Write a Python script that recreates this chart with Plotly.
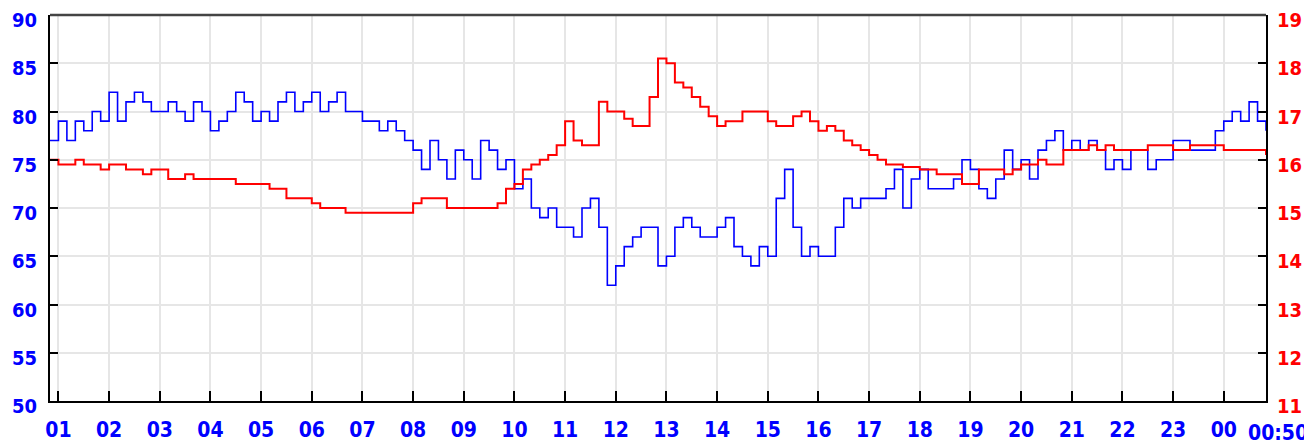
import pandas as pd
import plotly.graph_objects as go

# sample times: 10-minute readings from 00:50 to 00:50 next day
times = pd.date_range("2024-01-01 00:50", "2024-01-02 00:50", freq="10min")

# humidity (%), left axis
humidity = [
    77, 79, 77, 79, 78, 80, 79, 82, 79, 81, 82, 81, 80, 80, 81, 80, 79, 81, 80, 78,
    79, 80, 82, 81, 79, 80, 79, 81, 82, 80, 81, 82, 80, 81, 82, 80, 80, 79, 79, 78,
    79, 78, 77, 76, 74, 77, 75, 73, 76,
    75, 73, 77, 76, 74, 75, 72, 73, 70, 69, 70, 68, 68, 67, 70, 71, 68, 62, 64, 66,
    67, 68, 68, 64, 65, 68, 69, 68, 67, 67, 68, 69, 66, 65, 64, 66, 65, 71, 74, 68,
    65, 66, 65, 65, 68, 71, 70, 71,
    71, 71, 72, 74, 70, 73, 74, 72, 72, 72, 73, 75, 74, 72, 71, 73, 76, 74, 75, 73,
    76, 77, 78, 76, 77, 76, 77, 76, 74, 75, 74, 76, 76, 74, 75, 75, 77, 77, 76, 76,
    76, 78, 79, 80, 79, 81, 79, 78,
]

# temperature (deg C), right axis
temperature = [
    16.0, 15.9, 15.9, 16.0, 15.9, 15.9, 15.8, 15.9, 15.9, 15.8, 15.8, 15.7, 15.8, 15.8,
    15.6, 15.6, 15.7, 15.6, 15.6, 15.6, 15.6, 15.6, 15.5, 15.5, 15.5, 15.5, 15.4, 15.4,
    15.2, 15.2, 15.2, 15.1, 15.0, 15.0, 15.0, 14.9, 14.9, 14.9, 14.9, 14.9, 14.9, 14.9,
    14.9, 15.1, 15.2, 15.2, 15.2, 15.0, 15.0,
    15.0, 15.0, 15.0, 15.0, 15.1, 15.4, 15.5, 15.8, 15.9, 16.0, 16.1, 16.3, 16.8, 16.4,
    16.3, 16.3, 17.2, 17.0, 17.0, 16.85, 16.7, 16.7, 17.3, 18.1, 18.0, 17.6, 17.5, 17.3,
    17.1, 16.9, 16.7, 16.8, 16.8, 17.0, 17.0, 17.0, 16.8, 16.7, 16.7, 16.9, 17.0, 16.8,
    16.6, 16.7, 16.6, 16.4, 16.3, 16.2,
    16.1, 16.0, 15.9, 15.9, 15.85, 15.85, 15.8, 15.8, 15.7, 15.7, 15.7, 15.5, 15.5, 15.8,
    15.8, 15.8, 15.7, 15.8, 15.9, 15.9, 16.0, 15.9, 15.9, 16.2, 16.2, 16.2, 16.3, 16.2,
    16.3, 16.2, 16.2, 16.2, 16.2, 16.3, 16.3, 16.3, 16.2, 16.2, 16.3, 16.3, 16.3, 16.3,
    16.2, 16.2, 16.2, 16.2, 16.2, 16.1,
]

hum_ticks = [50, 55, 60, 65, 70, 75, 80, 85, 90]
temp_ticks = [11, 12, 13, 14, 15, 16, 17, 18, 19]
end_label = "00:50"

FONT = "DejaVu Sans Condensed, DejaVu Sans, sans-serif"
BLUE = "#0000ff"
RED = "#ff0000"

fig = go.Figure()
fig.add_trace(go.Scatter(x=times, y=humidity, mode="lines", line=dict(color=BLUE, width=1.6, shape="hv"),
                         yaxis="y", showlegend=False))
fig.add_trace(go.Scatter(x=times, y=temperature, mode="lines", line=dict(color=RED, width=2, shape="hv"),
                         yaxis="y2", showlegend=False))

x0, x1 = times[0], times[-1]

# the page body adds an 8px offset, so the figure is sized/margined to compensate
fig.update_layout(
    width=1304, height=436,
    margin=dict(l=42, r=46, t=7, b=43, autoexpand=False),
    paper_bgcolor="white", plot_bgcolor="white",
    xaxis=dict(
        type="date", range=[x0, x1], automargin=False, ticklabeloverflow="allow",
        tick0="2024-01-01 01:00", dtick=3600000, tickformat="%H",
        showgrid=True, gridcolor="#e6e6e6", gridwidth=2,
        showline=True, linecolor="black", linewidth=2,
        ticks="inside", ticklen=10, tickwidth=2, tickcolor="black",
        tickfont=dict(family=FONT, size=21, color=BLUE, weight="bold"),
        ticklabelstandoff=9, zeroline=False,
    ),
    yaxis=dict(
        range=[50, 90], tickvals=hum_ticks, automargin=False, ticklabeloverflow="allow",
        showgrid=True, gridcolor="#e6e6e6", gridwidth=2,
        showline=True, linecolor="black", linewidth=2,
        ticks="inside", ticklen=8, tickwidth=2, tickcolor="black",
        tickfont=dict(family=FONT, size=20, color=BLUE, weight="bold"),
        ticklabelstandoff=7, ticklabelshift=5, zeroline=False,
    ),
    yaxis2=dict(
        range=[11, 19], tickvals=temp_ticks, overlaying="y", side="right", automargin=False,
        ticklabeloverflow="allow",
        showgrid=False,
        showline=True, linecolor="black", linewidth=2,
        ticks="inside", ticklen=8, tickwidth=2, tickcolor="black",
        tickfont=dict(family=FONT, size=20, color=RED, weight="bold"),
        ticklabelstandoff=5, ticklabelshift=5, zeroline=False,
    ),
    shapes=[
        dict(type="line", xref="paper", yref="paper", x0=0, x1=1, y0=1, y1=1,
             line=dict(color="#444444", width=2.5)),
        dict(type="line", xref="x", yref="paper", x0="2024-01-02 00:00", x1="2024-01-02 00:00",
             y0=0, y1=1, line=dict(color="#dcdcdc", width=1.5, dash="dash"), layer="below"),
    ],
    annotations=[
        dict(text=end_label, xref="paper", yref="paper", x=1, y=0, xanchor="right", yanchor="top",
             xshift=44, yshift=-18, showarrow=False,
             font=dict(family=FONT, size=21, color=BLUE, weight="bold")),
    ],
)

fig.write_html("out.html")
